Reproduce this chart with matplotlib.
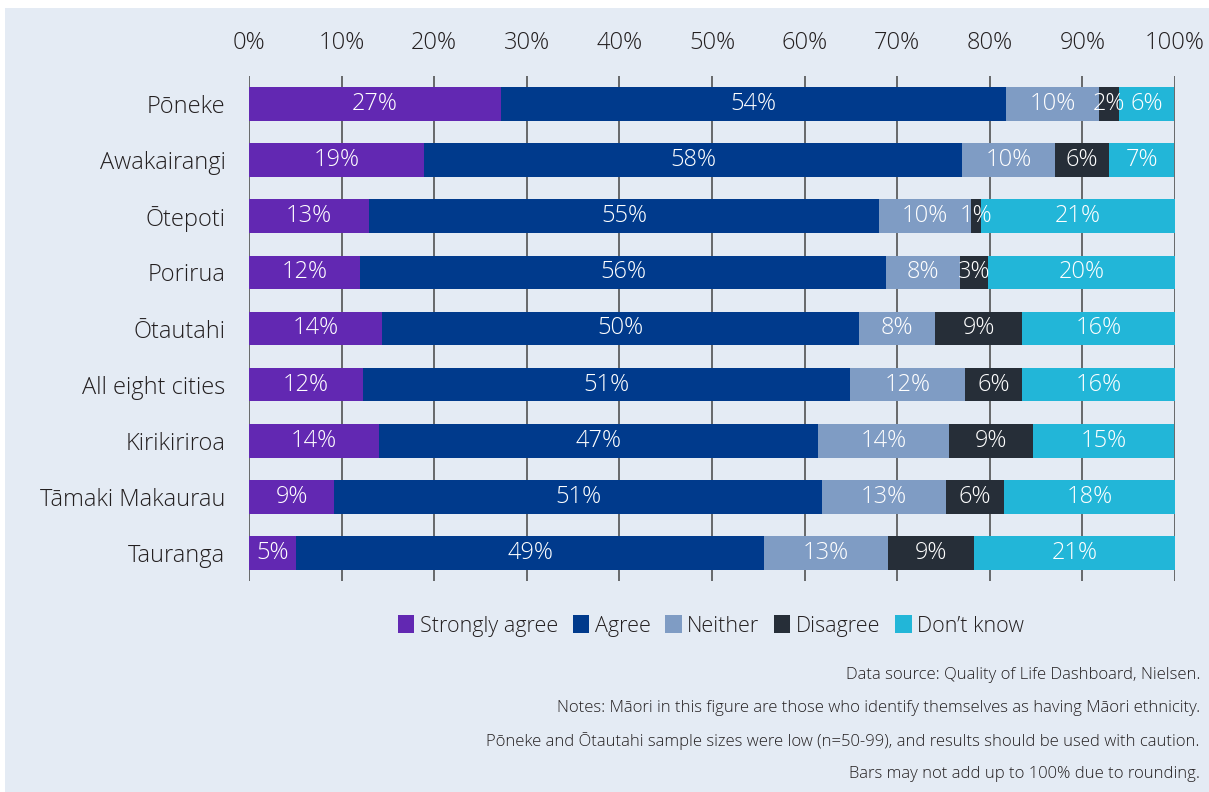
import numpy as np
import matplotlib
matplotlib.use("Agg")
import matplotlib.pyplot as plt
from matplotlib.patches import Rectangle, Patch

# Cities (top to bottom)
cities = ["Pōneke", "Awakairangi", "Ōtepoti", "Porirua", "Ōtautahi",
          "All eight cities", "Kirikiriroa", "Tāmaki Makaurau", "Tauranga"]
categories = ["Strongly agree", "Agree", "Neither", "Disagree", "Don’t know"]
colors = ["#6228b2", "#003a8c", "#7f9cc4", "#262e38", "#22b6d8"]

# segment widths (%)
strongly_agree = [27.2, 18.9, 13.0, 12.0, 14.4, 12.3, 14.0, 9.2, 5.1]
agree          = [54.6, 58.1, 55.0, 56.8, 51.5, 52.6, 47.5, 52.7, 50.5]
neither        = [10.0, 10.0, 10.0, 8.0, 8.2, 12.4, 14.1, 13.4, 13.4]
disagree       = [2.1, 5.9, 1.0, 3.0, 9.4, 6.2, 9.1, 6.2, 9.3]
dont_know      = [6.0, 7.0, 21.1, 20.2, 16.5, 16.5, 15.2, 18.6, 21.7]

# printed labels
lab_sa = [27, 19, 13, 12, 14, 12, 14, 9, 5]
lab_ag = [54, 58, 55, 56, 50, 51, 47, 51, 49]
lab_ne = [10, 10, 10, 8, 8, 12, 14, 13, 13]
lab_di = [2, 6, 1, 3, 9, 6, 9, 6, 9]
lab_dk = [6, 7, 21, 20, 16, 16, 15, 18, 21]

notes = [
    "Data source: Quality of Life Dashboard, Nielsen.",
    "Notes: Māori in this figure are those who identify themselves as having Māori ethnicity.",
    "Pōneke and Ōtautahi sample sizes were low (n=50-99), and results should be used with caution.",
    "Bars may not add up to 100% due to rounding.",
]

FONT = dict(family="Open Sans", fontweight=300)
TXT = "#231f20"
SIZE = 17

fig = plt.figure(figsize=(12.09, 7.92), dpi=100, facecolor="white")
fig.patches.append(Rectangle((5 / 1209, 0), 1 - 5 / 1209, 1 - 8 / 792,
                             transform=fig.transFigure, facecolor="#e4ebf4",
                             edgecolor="none", zorder=-10))

ax = fig.add_axes([249 / 1209, 1 - 581 / 792, (1175 - 249) / 1209, (581 - 76) / 792])
ax.set_facecolor("none")

series = [strongly_agree, agree, neither, disagree, dont_know]
labels = [lab_sa, lab_ag, lab_ne, lab_di, lab_dk]
y = np.arange(len(cities))
left = np.zeros(len(cities))
for vals, labs, col, name in zip(series, labels, colors, categories):
    vals = np.array(vals)
    ax.barh(y, vals, left=left, height=0.6, color=col, edgecolor="none", zorder=2, label=name)
    for yi, l, v, t in zip(y, left, vals, labs):
        ax.text(l + v / 2, yi, f"{t}%", ha="center", va="center", color="white",
                fontsize=SIZE, zorder=3, **FONT)
    left += vals

for xv in range(0, 101, 10):
    ax.axvline(xv, color="#444444", lw=1.1, zorder=1)

ax.set_xlim(0, 100)
ax.set_ylim(len(cities) - 0.5, -0.5)
ax.set_xticks(range(0, 101, 10))
ax.set_xticklabels([f"{v}%" for v in range(0, 101, 10)])
ax.set_yticks(y)
ax.set_yticklabels(cities)
ax.xaxis.tick_top()
ax.tick_params(axis="x", length=0, pad=15, labelcolor=TXT)
ax.tick_params(axis="y", length=0, pad=17, labelcolor=TXT)
for lab in ax.get_xticklabels() + ax.get_yticklabels():
    lab.set_fontsize(SIZE)
    lab.set_family("Open Sans")
    lab.set_fontweight(300)
for s in ax.spines.values():
    s.set_visible(False)

handles = [Patch(facecolor=c, edgecolor="none") for c in colors]
leg = fig.legend(handles, categories, loc="center", ncol=5,
                 bbox_to_anchor=(711 / 1209, 1 - 626 / 792), frameon=False,
                 handlelength=0.75, handleheight=0.9, handletextpad=0.25,
                 columnspacing=0.7, prop=dict(family="Open Sans", weight=300, size=15.5))
for t in leg.get_texts():
    t.set_color(TXT)

for i, n in enumerate(notes):
    fig.text(1200 / 1209, 1 - (675 + 33 * i) / 792, n, ha="right", va="center",
             fontsize=12, family="Open Sans", fontweight=300, color=TXT)

fig.savefig("out.png", dpi=100, facecolor=fig.get_facecolor())
